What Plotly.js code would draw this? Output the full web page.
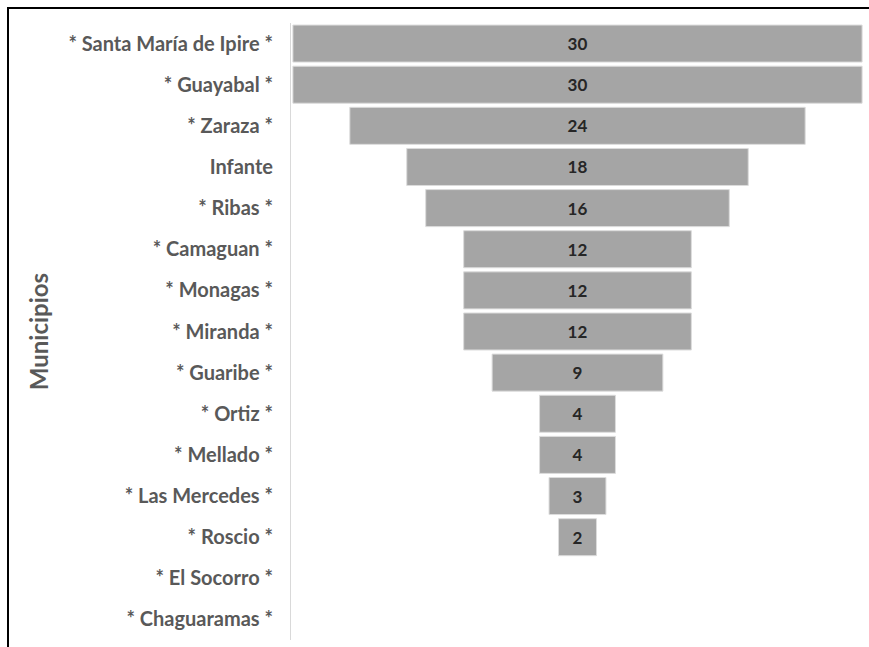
<!DOCTYPE html>
<html>
<head>
<meta charset="utf-8">
<script src="https://cdn.plot.ly/plotly-3.0.1.min.js"></script>
<style>
html,body{margin:0;padding:0;background:#fff;}
#wrap{position:relative;width:869px;height:647px;overflow:hidden;}
#chart{position:absolute;left:0;top:0;width:869px;height:647px;}
#frame{position:absolute;left:7px;top:7px;width:900px;height:700px;border-top:2px solid #000;border-left:2px solid #000;pointer-events:none;}
</style>
</head>
<body>
<div id="wrap"><div id="chart"></div><div id="frame"></div></div>
<script>
const municipios = [
  "* Santa María de Ipire *", "* Guayabal *", "* Zaraza *", "Infante", "* Ribas *",
  "* Camaguan *", "* Monagas *", "* Miranda *", "* Guaribe *", "* Ortiz *",
  "* Mellado *", "* Las Mercedes *", "* Roscio *", "* El Socorro *", "* Chaguaramas *"
];
const valores = [30, 30, 24, 18, 16, 12, 12, 12, 9, 4, 4, 3, 2, 0, 0];
const etiquetas = valores.map(v => v > 0 ? String(v) : "");
const bordes = valores.map(v => v > 0 ? 1 : 0);

const trace = {
  type: "funnel",
  y: municipios,
  x: valores,
  text: etiquetas,
  textinfo: "text",
  textposition: "inside",
  insidetextanchor: "middle",
  textfont: {family: "Lato, 'Open Sans', sans-serif", size: 17, color: "#262626", weight: "bold"},
  marker: {color: "#a5a5a5", line: {color: "#dcdcdc", width: bordes}},
  connector: {visible: false},
  hoverinfo: "y+x"
};

const layout = {
  width: 869, height: 647,
  margin: {l: 291, r: 5, t: 23, b: 7},
  paper_bgcolor: "#ffffff",
  plot_bgcolor: "#ffffff",
  showlegend: false,
  funnelgap: 0.1,
  xaxis: {range: [-15.1, 15.1], visible: false, fixedrange: true},
  yaxis: {
    type: "category",
    categoryorder: "array",
    categoryarray: municipios,
    autorange: "reversed",
    showline: true, linecolor: "#d9d9d9", linewidth: 1,
    showgrid: false, zeroline: false, ticks: "",
    ticklabelstandoff: 13,
    tickfont: {family: "Lato, 'Open Sans', sans-serif", size: 20, color: "#595959", weight: "bold"},
    title: {text: "Municipios", standoff: 12,
            font: {family: "Lato, 'Open Sans', sans-serif", size: 24, color: "#595959", weight: "bold"}}
  }
};

Plotly.newPlot("chart", [trace], layout, {displayModeBar: false, staticPlot: true});
</script>
</body>
</html>
